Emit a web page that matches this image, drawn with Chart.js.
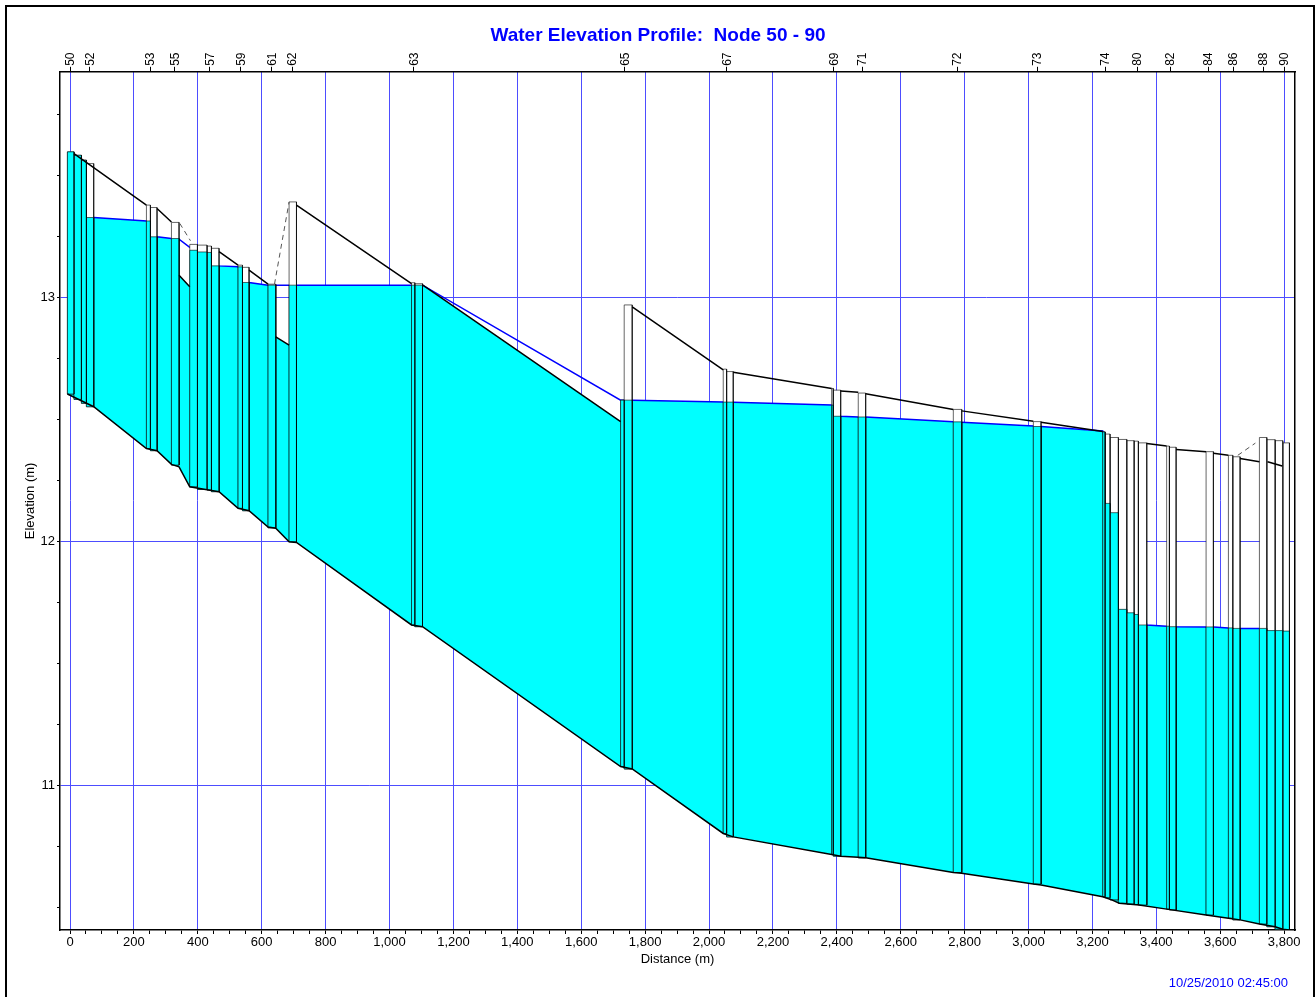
<!DOCTYPE html>
<html>
<head>
<meta charset="utf-8">
<title>Water Elevation Profile: Node 50 - 90</title>
<script src="https://cdn.jsdelivr.net/npm/chart.js@4.4.1/dist/chart.umd.min.js"></script>
<style>
    html, body { margin: 0; padding: 0; background: #fff; overflow: hidden; }
    #wrap { position: relative; width: 1316px; height: 997px; }
    #frame { position: absolute; left: 5px; top: 5px; width: 1306px; height: 1100px; border: 2px solid #000; pointer-events: none; }
    canvas { position: absolute; left: 0; top: 0; }
</style>
</head>
<body>
<div id="wrap">
    <canvas id="profile" width="1316" height="997"></canvas>
    <div id="frame"></div>
</div>
<script>
// node labels on the top axis
const nodeNames = ['50', '52', '53', '55', '57', '59', '61', '62', '63', '65', '67', '69', '71', '72', '73', '74', '80', '82', '84', '86', '88', '90'];
const nodeStations = [0, 61.7, 251.7, 327.8, 437.4, 534.4, 631.5, 696.3, 1076.1, 1736.7, 2056.1, 2391.1, 2478.8, 2776.2, 3026.7, 3239.6, 3339.8, 3443.1, 3562.1, 3640.4, 3734.3, 3800];

// node boxes (distance m, elevation m)
const boxLeft = [-8.1, 12.5, 35.7, 51.3, 239.2, 251.7, 317.5, 374.8, 398.9, 428.9, 442.7, 526.0, 539.8, 619.9, 685.7, 1068.9, 1079.2, 1723.3, 1734.5, 2044.5, 2055.1, 2383.9, 2388.9, 2467.1, 2764.6, 3015.1, 3232.3, 3239.5, 3255.2, 3281.2, 3307.5, 3330.4, 3343.8, 3432.3, 3440.9, 3555.7, 3625.6, 3639.3, 3722.6, 3745.8, 3771.8, 3795.9];
const boxRight = [12.5, 35.7, 51.3, 74.2, 251.7, 272.4, 341.3, 398.9, 428.9, 442.7, 466.5, 539.8, 560.4, 644.0, 708.8, 1079.2, 1103.3, 1734.5, 1759.6, 2055.1, 2075.8, 2388.9, 2412.1, 2490.3, 2790.9, 3039.2, 3239.5, 3255.2, 3281.2, 3307.5, 3330.4, 3343.8, 3370.1, 3440.9, 3461.9, 3578.6, 3639.3, 3662.2, 3745.8, 3771.8, 3795.9, 3816.6];
const boxInvert = [12.603, 12.581, 12.565, 12.551, 12.380, 12.371, 12.312, 12.223, 12.212, 12.210, 12.203, 12.135, 12.125, 12.055, 11.998, 11.657, 11.650, 11.077, 11.067, 10.803, 10.789, 10.717, 10.710, 10.703, 10.643, 10.596, 10.544, 10.540, 10.531, 10.517, 10.514, 10.512, 10.510, 10.493, 10.490, 10.469, 10.456, 10.449, 10.432, 10.421, 10.411, 10.408];
const boxRim = [13.595, 13.581, 13.561, 13.547, 13.377, 13.367, 13.306, 13.216, 13.213, 13.209, 13.200, 13.131, 13.122, 13.053, 13.390, 13.059, 13.055, 12.578, 12.968, 12.705, 12.695, 12.626, 12.619, 12.607, 12.540, 12.490, 12.448, 12.439, 12.425, 12.417, 12.412, 12.410, 12.403, 12.390, 12.385, 12.367, 12.352, 12.346, 12.425, 12.416, 12.412, 12.403];
const boxWater = [13.595, 13.581, 13.561, 13.326, 13.312, 13.247, 13.240, 13.192, 13.185, 13.183, 13.128, 13.124, 13.060, 13.049, 13.049, 13.049, 13.049, 12.578, 12.578, 12.570, 12.570, 12.558, 12.512, 12.509, 12.489, 12.470, 12.448, 12.155, 12.117, 11.721, 11.707, 11.700, 11.657, 11.652, 11.650, 11.649, 11.645, 11.643, 11.643, 11.634, 11.634, 11.632];

// hydraulic grade line
const waterX = [74.2, 239.2, 272.4, 317.5, 341.3, 374.8, 466.5, 526.0, 560.4, 619.9, 644.0, 685.7, 708.8, 1068.9, 1103.3, 1723.3, 1759.6, 2044.5, 2075.8, 2383.9, 2412.1, 2467.1, 2490.3, 2764.6, 2790.9, 3015.1, 3039.2, 3232.3, 3370.1, 3432.3, 3461.9, 3555.7, 3578.6, 3625.6, 3662.2, 3722.6];
const waterY = [13.326, 13.312, 13.247, 13.240, 13.237, 13.204, 13.128, 13.124, 13.060, 13.049, 13.049, 13.049, 13.049, 13.049, 13.049, 12.578, 12.578, 12.570, 12.569, 12.558, 12.512, 12.509, 12.509, 12.489, 12.487, 12.472, 12.470, 12.452, 11.657, 11.652, 11.650, 11.649, 11.649, 11.645, 11.643, 11.643];

// top of the water-filled area in the links
const fillX = [-8.1, 74.2, 239.2, 272.4, 317.5, 341.3, 374.8, 466.5, 526.0, 560.4, 619.9, 644.0, 685.7, 708.8, 1068.9, 1103.3, 1723.3, 1759.6, 2044.5, 2075.8, 2383.9, 2412.1, 2467.1, 2490.3, 2764.6, 2790.9, 3015.1, 3039.2, 3232.3, 3370.1, 3432.3, 3461.9, 3555.7, 3578.6, 3625.6, 3662.2, 3722.6, 3816.6];
const fillY = [13.595, 13.326, 13.312, 13.247, 13.240, 13.090, 13.042, 13.128, 13.124, 13.060, 13.049, 12.837, 12.803, 13.049, 13.049, 13.049, 12.490, 12.578, 12.570, 12.569, 12.558, 12.512, 12.509, 12.509, 12.489, 12.487, 12.472, 12.470, 12.450, 11.657, 11.652, 11.650, 11.649, 11.649, 11.645, 11.643, 11.643, 11.632];

// conduit invert
const invertX = [-8.1, 74.2, 239.2, 272.4, 317.5, 341.3, 374.8, 442.7, 466.5, 526.0, 560.4, 619.9, 644.0, 685.7, 708.8, 1068.9, 1103.3, 1723.3, 1759.6, 2044.5, 2075.8, 2383.9, 2412.1, 2467.1, 2490.3, 2764.6, 2790.9, 3015.1, 3039.2, 3232.3, 3260.4, 3284.2, 3345.9, 3432.6, 3555.7, 3625.6, 3662.2, 3722.6, 3771.8, 3795.9, 3816.6];
const invertY = [12.603, 12.551, 12.380, 12.371, 12.315, 12.305, 12.223, 12.208, 12.203, 12.135, 12.125, 12.058, 12.053, 11.998, 11.995, 11.657, 11.650, 11.077, 11.067, 10.803, 10.789, 10.717, 10.710, 10.706, 10.703, 10.643, 10.640, 10.596, 10.592, 10.544, 10.531, 10.517, 10.510, 10.493, 10.469, 10.456, 10.449, 10.432, 10.421, 10.411, 10.408];

// conduit crown segments [x1, y1, x2, y2]
const crownSegs = [
    [12.5, 13.588, 239.2, 13.377],
    [272.4, 13.363, 317.5, 13.308],
    [341.3, 13.090, 374.8, 13.042],
    [466.5, 13.186, 526.0, 13.131],
    [560.4, 13.111, 619.9, 13.053],
    [644.0, 12.837, 685.7, 12.803],
    [708.8, 13.377, 1068.9, 13.055],
    [1103.3, 13.050, 1723.3, 12.490],
    [1759.6, 12.960, 2044.5, 12.702],
    [2075.8, 12.692, 2383.9, 12.626],
    [2412.1, 12.615, 2467.1, 12.610],
    [2490.3, 12.604, 2764.6, 12.540],
    [2790.9, 12.534, 3015.1, 12.492],
    [3039.2, 12.487, 3232.3, 12.450],
    [3370.1, 12.400, 3432.3, 12.390],
    [3461.9, 12.376, 3555.7, 12.367],
    [3578.6, 12.360, 3625.6, 12.352],
    [3662.2, 12.339, 3722.6, 12.326],
    [3748.0, 12.326, 3794.0, 12.308]
];

// dashed links [x1, y1, x2, y2]
const dashSegs = [
    [343.5, 13.302, 377.0, 13.231],
    [640.0, 13.053, 685.7, 13.390],
    [3655.0, 12.352, 3710.0, 12.402]
];

const stampText = '10/25/2010 02:45:00';

const WATER = '#00ffff';
const GRID = '#4d4dff';
const BLUE = '#0000ff';
const EDGE = 'rgba(0,0,0,0.6)';
const X_MIN = -31.3, X_MAX = 3834;

const toPoints = (xs, ys) => xs.map((x, i) => ({ x: x, y: ys[i] }));
const segPoints = (segs) => segs.flatMap(s => [{ x: s[0], y: s[1] }, { x: s[2], y: s[3] }, { x: s[2], y: null }]);
const isWhole = (v) => Math.abs(v - Math.round(v)) < 1e-6;

const lineBase = { pointRadius: 0, pointHitRadius: 0, tension: 0, fill: false };

const datasets = [
    Object.assign({}, lineBase, { label: 'Invert', data: toPoints(invertX, invertY), borderColor: '#000', borderWidth: 1.5, order: 10 }),
    Object.assign({}, lineBase, { label: 'Water', data: toPoints(fillX, fillY), borderWidth: 0, borderColor: 'rgba(0,0,0,0)', backgroundColor: WATER, fill: 0, order: 60 }),
    Object.assign({}, lineBase, { label: 'HGL', data: toPoints(waterX, waterY), borderColor: BLUE, borderWidth: 1.5, order: 50 }),
    Object.assign({}, lineBase, { label: 'Crown', data: segPoints(crownSegs), borderColor: '#000', borderWidth: 1.5, spanGaps: false, order: 5 }),
    Object.assign({}, lineBase, { label: 'Link', data: segPoints(dashSegs), borderColor: '#555', borderWidth: 1, borderDash: [5, 4], spanGaps: false, order: 4 })
];

boxLeft.forEach((l, i) => {
    const r = boxRight[i], b = boxInvert[i];
    datasets.push(Object.assign({}, lineBase, {
        label: 'node ' + i,
        data: [{ x: l, y: b }, { x: l, y: boxRim[i] }, { x: r, y: boxRim[i] }, { x: r, y: b }, { x: l, y: b }],
        borderColor: EDGE, borderWidth: 1, backgroundColor: '#fff', fill: 'shape', order: 40
    }));
    datasets.push(Object.assign({}, lineBase, {
        label: 'node water ' + i,
        data: [{ x: l, y: b }, { x: l, y: boxWater[i] }, { x: r, y: boxWater[i] }, { x: r, y: b }, { x: l, y: b }],
        borderColor: EDGE, borderWidth: 1, backgroundColor: WATER, fill: 'shape', order: 30
    }));
});

const stampPlugin = {
    id: 'stamp',
    afterDraw(chart) {
        const ctx = chart.ctx;
        ctx.save();
        ctx.font = "13px 'Liberation Sans', Arial, sans-serif";
        ctx.fillStyle = BLUE;
        ctx.textAlign = 'right';
        ctx.textBaseline = 'alphabetic';
        ctx.fillText(stampText, chart.width - 28, chart.height - 10);
        ctx.restore();
    }
};

Chart.defaults.font.family = "'Liberation Sans', Arial, sans-serif";
Chart.defaults.font.size = 13;
Chart.defaults.color = '#000';

new Chart(document.getElementById('profile').getContext('2d'), {
    type: 'line',
    data: { datasets: datasets },
    options: {
        responsive: false,
        animation: false,
        events: [],
        layout: { padding: { top: 10, left: 11, right: 11, bottom: 27 } },
        plugins: {
            legend: { display: false },
            tooltip: { enabled: false },
            title: {
                display: true,
                text: 'Water Elevation Profile:  Node 50 - 90',
                color: BLUE,
                font: { size: 19, weight: 'bold' },
                padding: { top: 14, bottom: 0 }
            }
        },
        scales: {
            x: {
                type: 'linear',
                position: 'bottom',
                min: X_MIN,
                max: X_MAX,
                afterFit: (s) => { s.height = 40; },
                border: { color: '#000', width: 1.5 },
                grid: {
                    color: (c) => (c.tick && Math.round(c.tick.value) % 200 === 0) ? GRID : 'rgba(0,0,0,0)',
                    tickColor: '#000',
                    tickLength: 4,
                    lineWidth: 1
                },
                ticks: {
                    stepSize: 50,
                    includeBounds: false,
                    autoSkip: false,
                    maxRotation: 0,
                    minRotation: 0,
                    padding: 1,
                    callback: (v) => Math.round(v) % 200 === 0 ? Math.round(v).toLocaleString('en-US') : ''
                },
                title: { display: true, text: 'Distance (m)', padding: { top: 0, bottom: 3 } }
            },
            x2: {
                type: 'linear',
                position: 'top',
                min: X_MIN,
                max: X_MAX,
                afterFit: (s) => { s.height = 25; },
                afterBuildTicks: (s) => { s.ticks = nodeStations.map(v => ({ value: v })); },
                border: { color: '#000', width: 1.5 },
                grid: { drawOnChartArea: false, tickColor: '#000', tickLength: 5 },
                ticks: {
                    autoSkip: false,
                    maxRotation: 90,
                    minRotation: 90,
                    padding: 1,
                    labelOffset: 15,
                    font: { size: 12 },
                    callback: (v, i) => nodeNames[i]
                }
            },
            y: {
                type: 'linear',
                position: 'left',
                min: 10.4075,
                max: 13.923,
                afterFit: (s) => { s.width = 49; },
                border: { color: '#000', width: 1.5 },
                grid: {
                    color: (c) => (c.tick && isWhole(c.tick.value)) ? GRID : 'rgba(0,0,0,0)',
                    tickColor: '#000',
                    tickLength: 3,
                    lineWidth: 1
                },
                ticks: {
                    stepSize: 0.25,
                    includeBounds: false,
                    autoSkip: false,
                    padding: 2,
                    callback: (v) => isWhole(v) ? String(Math.round(v)) : ''
                },
                title: { display: true, text: 'Elevation (m)', padding: { top: 12, bottom: 0 } }
            },
            y2: {
                type: 'linear',
                position: 'right',
                afterFit: (s) => { s.width = 10; },
                border: { color: '#000', width: 1.5 },
                grid: { drawOnChartArea: false, drawTicks: false },
                ticks: { display: false }
            }
        }
    },
    plugins: [stampPlugin]
});
</script>
</body>
</html>
